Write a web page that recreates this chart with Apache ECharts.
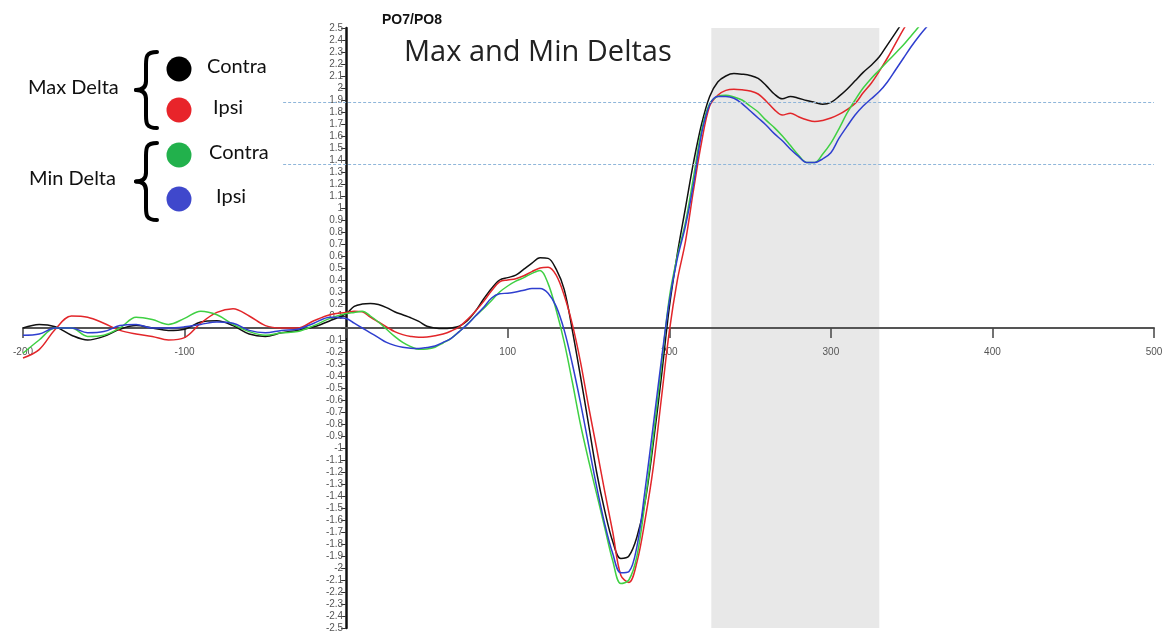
<!DOCTYPE html>
<html><head><meta charset="utf-8">
<script src="https://cdn.jsdelivr.net/npm/echarts@6/dist/echarts.min.js"></script>
<style>html,body{margin:0;padding:0;background:#fff}#c{width:1174px;height:635px}</style>
</head><body><div id="c"></div>
<script>
// time points (ms)
const times = [-200,-190,-180,-170,-160,-150,-140,-130,-120,-110,-100,-90,-80,-70,-60,-50,-40,-30,-20,-10,0,
  5,10,15,20,25,30,35,40,45,50,55,60,65,70,75,80,85,90,95,100,105,110,115,120,125,130,135,140,145,150,155,160,165,170,175,180,185,190,195,200,
  205,210,215,220,225,230,235,240,245,250,255,260,265,270,275,280,285,290,295,300,305,310,315,320,325,330,335,340,345,350,355,360];

// Max Delta - Contra (black)
const maxContra = [0.0,0.03,0.01,-0.06,-0.1,-0.07,-0.01,0.02,0.0,-0.02,-0.01,0.05,0.06,0.02,-0.05,-0.07,-0.04,-0.02,0.01,0.06,0.12,
  0.18,0.2,0.205,0.195,0.17,0.135,0.11,0.085,0.055,0.015,0.0,-0.005,0.0,0.015,0.06,0.14,0.24,0.33,0.4,0.42,0.44,0.49,0.54,0.585,0.58,0.49,0.32,-0.02,-0.4,-0.8,-1.2,-1.52,-1.78,-1.92,-1.9,-1.74,-1.45,-0.97,-0.42,0.17,
  0.62,1.0,1.38,1.7,1.93,2.05,2.1,2.12,2.115,2.105,2.08,2.02,1.95,1.91,1.93,1.915,1.895,1.88,1.865,1.88,1.93,1.99,2.06,2.13,2.19,2.26,2.36,2.46,2.56,null,null,null];

// Max Delta - Ipsi (red)
const maxIpsi = [-0.25,-0.18,-0.01,0.1,0.09,0.04,-0.02,-0.05,-0.07,-0.1,-0.08,0.04,0.13,0.16,0.1,0.02,0.0,0.0,0.06,0.11,0.13,
  0.14,0.135,0.09,0.05,0.01,-0.03,-0.055,-0.07,-0.078,-0.075,-0.065,-0.05,-0.025,0.01,0.07,0.14,0.22,0.31,0.385,0.4,0.41,0.435,0.47,0.5,0.506,0.44,0.27,0.03,-0.28,-0.65,-1.0,-1.36,-1.7,-2.06,-2.12,-1.95,-1.6,-1.17,-0.6,-0.03,
  0.4,0.72,1.15,1.55,1.85,1.94,1.98,1.99,1.985,1.975,1.95,1.89,1.82,1.775,1.79,1.76,1.735,1.72,1.73,1.75,1.78,1.82,1.87,1.96,2.04,2.14,2.25,2.37,2.49,2.6,null,null];

// Min Delta - Contra (green)
const minContra = [-0.21,-0.1,0.0,0.0,-0.07,-0.06,0.0,0.09,0.07,0.03,0.08,0.14,0.11,0.03,-0.03,-0.06,-0.04,-0.03,0.02,0.08,0.12,
  0.13,0.14,0.1,0.05,-0.01,-0.07,-0.12,-0.155,-0.178,-0.175,-0.16,-0.125,-0.086,-0.03,0.03,0.1,0.16,0.23,0.3,0.35,0.39,0.42,0.455,0.48,0.37,0.15,-0.12,-0.45,-0.8,-1.1,-1.38,-1.66,-1.94,-2.13,-2.1,-1.9,-1.45,-0.92,-0.33,0.25,
  0.6,0.88,1.26,1.65,1.87,1.93,1.94,1.925,1.9,1.85,1.8,1.73,1.67,1.6,1.52,1.44,1.38,1.38,1.45,1.54,1.66,1.79,1.9,2.0,2.08,2.15,2.22,2.29,2.36,2.44,2.52,2.6];

// Min Delta - Ipsi (blue)
const minIpsi = [-0.06,-0.05,0.0,0.0,-0.04,-0.03,0.02,0.03,0.0,0.0,0.01,0.03,0.05,0.04,-0.02,-0.04,-0.02,-0.01,0.04,0.09,0.08,
  0.04,0.0,-0.04,-0.08,-0.12,-0.145,-0.16,-0.168,-0.17,-0.162,-0.15,-0.12,-0.086,-0.03,0.03,0.1,0.17,0.25,0.285,0.29,0.3,0.315,0.33,0.33,0.29,0.18,-0.02,-0.3,-0.62,-0.97,-1.32,-1.63,-1.88,-2.04,-2.03,-1.82,-1.35,-0.82,-0.28,0.22,
  0.58,0.85,1.2,1.62,1.86,1.93,1.93,1.915,1.87,1.81,1.75,1.69,1.62,1.56,1.49,1.43,1.38,1.38,1.41,1.46,1.58,1.68,1.775,1.85,1.91,1.97,2.05,2.15,2.25,2.35,2.44,2.52];

const analysisWindow = [226, 330];
const refLevels = [1.878, 1.367];
const refSpan = [-39, 500];

const seriesNames = ['Max Delta Contra', 'Max Delta Ipsi', 'Min Delta Contra', 'Min Delta Ipsi'];
const seriesColors = ['#111111', '#e2262a', '#3fd043', '#2f3fcf'];
const markerColors = ['#000000', '#e8242a', '#22b14c', '#3f48cc'];
const seriesValues = [maxContra, maxIpsi, minContra, minIpsi];

const X_MIN = -200, X_MAX = 500, Y_MIN = -2.5, Y_MAX = 2.5;
const W = 1174, H = 635;
const G = { left: 23, right: 20, top: 28, bottom: 7 };
const gw = W - G.left - G.right, gh = H - G.top - G.bottom;
const zeroX = G.left + gw * (0 - X_MIN) / (X_MAX - X_MIN);
const zeroY = G.top + gh * (Y_MAX - 0) / (Y_MAX - Y_MIN);

const chart = echarts.init(document.getElementById('c'), null, {renderer: 'canvas'});

function zip(vals) { return times.map((t, i) => [t, vals[i]]); }

const lineSeries = seriesValues.map((vals, i) => ({
  name: seriesNames[i],
  type: 'line',
  data: zip(vals),
  showSymbol: false,
  smooth: 0.35,
  clip: true,
  z: 3,
  lineStyle: { color: seriesColors[i], width: 1.5 },
  emphasis: { disabled: true }
}));

const braceStyle = { fill: 'none', stroke: '#000', lineWidth: 4, lineCap: 'round' };
function brace(y0, y1) {
  const R = 157, S = 146, L = 136, m = (y0 + y1) / 2;
  const b = (x1, y1_, cx1, cy1, cx2, cy2, x2, y2) => ({ type: 'bezierCurve', z: 10, silent: true,
    shape: { x1: x1, y1: y1_, cpx1: cx1, cpy1: cy1, cpx2: cx2, cpy2: cy2, x2: x2, y2: y2 }, style: braceStyle });
  const l = (x1, y1_, x2, y2) => ({ type: 'line', z: 10, silent: true, shape: { x1: x1, y1: y1_, x2: x2, y2: y2 }, style: braceStyle });
  return [
    b(R, y0, S, y0, S, y0 + 5, S, y0 + 13),
    l(S, y0 + 13, S, m - 9),
    b(S, m - 9, S, m - 3, S - 3, m, L, m),
    b(L, m, S - 3, m, S, m + 3, S, m + 9),
    l(S, m + 9, S, y1 - 13),
    b(S, y1 - 13, S, y1 - 5, S, y1, R, y1)
  ];
}

const legendFont = 'Lato, "Open Sans", sans-serif';
const legendItems = [
  { label: 'Contra', y: 69, tx: 207 },
  { label: 'Ipsi', y: 110, tx: 213 },
  { label: 'Contra', y: 155, tx: 209 },
  { label: 'Ipsi', y: 199, tx: 216 }
];

const graphics = [
  { type: 'text', left: 382, top: 13, z: 10, style: { text: 'PO7/PO8', font: 'bold 14px "Liberation Sans", Arial, sans-serif', fill: '#111' } },
  { type: 'text', left: 404, top: 38, z: 10, style: { text: 'Max and Min Deltas', font: '29px "Open Sans", Lato, sans-serif', fill: '#222' } },
  { type: 'text', left: 28, top: 78, z: 10, style: { text: 'Max Delta', font: '20px ' + legendFont, fill: '#111' } },
  { type: 'text', left: 29, top: 169, z: 10, style: { text: 'Min Delta', font: '20px ' + legendFont, fill: '#111' } },
  ...brace(52, 128),
  ...brace(143, 220)
];
legendItems.forEach((it, i) => {
  graphics.push({ type: 'circle', z: 10, shape: { cx: 179, cy: it.y, r: 12.5 }, style: { fill: markerColors[i] } });
  graphics.push({ type: 'text', left: it.tx, top: it.y - 12, z: 10, style: { text: it.label, font: '20px ' + legendFont, fill: '#111' } });
});

const option = {
  animation: false,
  backgroundColor: '#ffffff',
  grid: { left: G.left, right: G.right, top: G.top, bottom: G.bottom, containLabel: false },
  xAxis: {
    type: 'value', min: X_MIN, max: X_MAX, interval: 100, z: 2,
    position: 'bottom', offset: -(H - G.bottom - zeroY),
    axisLine: { onZero: false, lineStyle: { color: '#555', width: 2 } },
    axisTick: { show: true, length: 10, lineStyle: { color: '#444', width: 1.5 } },
    axisLabel: { margin: 19, fontSize: 10, color: '#555', fontFamily: '"Liberation Sans", Arial, sans-serif',
      formatter: v => (v === 0 ? '' : String(v)) },
    splitLine: { show: false }
  },
  yAxis: {
    type: 'value', min: Y_MIN, max: Y_MAX, interval: 0.1, z: 2,
    position: 'left', offset: -(zeroX - G.left),
    axisLine: { onZero: false, lineStyle: { color: '#111', width: 2.5 } },
    axisTick: { show: true, length: 5, lineStyle: { color: '#333', width: 1 } },
    axisLabel: { margin: 3, fontSize: 10, color: '#555', fontFamily: '"Liberation Sans", Arial, sans-serif',
      formatter: v => { const r = Math.round(v * 10) / 10; return r === 0 ? '' : String(r); } },
    splitLine: { show: false }
  },
  series: [
    {
      name: 'window', type: 'line', data: [], z: 1, silent: true,
      markArea: { silent: true, itemStyle: { color: '#e8e8e8' },
        data: [[{ xAxis: analysisWindow[0] }, { xAxis: analysisWindow[1] }]] }
    },
    {
      name: 'levels', type: 'line', data: [], z: 2, silent: true, clip: false,
      markLine: { silent: true, symbol: ['none', 'none'], label: { show: false },
        lineStyle: { color: '#8fb6da', width: 1, type: [3, 2] },
        data: refLevels.map(l => [{ coord: [refSpan[0], l] }, { coord: [refSpan[1], l] }]) }
    },
    ...lineSeries
  ],
  graphic: graphics
};
chart.setOption(option);
</script>
</body></html>
